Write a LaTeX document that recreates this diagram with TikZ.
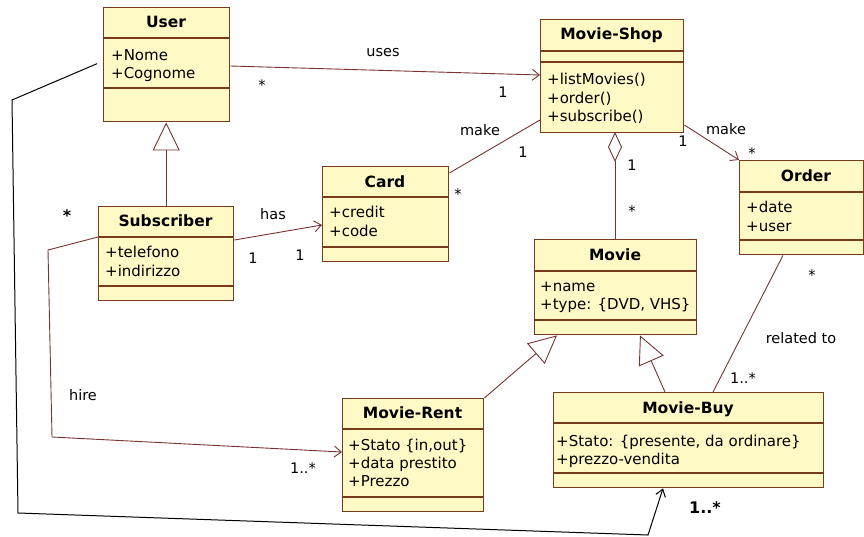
\documentclass[tikz,border=0pt]{standalone}
\usepackage{fontspec}
\setmainfont{DejaVu Sans}
\usetikzlibrary{arrows.meta,calc}
\definecolor{clsfill}{RGB}{255,249,198}
\definecolor{clsdraw}{RGB}{120,58,28}
\definecolor{conn}{RGB}{120,50,50}
\begin{document}
\begin{tikzpicture}[x=1pt,y=-1pt,
  cls/.style={draw=clsdraw, fill=clsfill, line width=1.4pt, inner sep=0pt, anchor=north west},
  sep/.style={draw=clsdraw, line width=1.2pt},
  ctitle/.style={font=\fontsize{15.5}{18}\selectfont\bfseries, anchor=base, inner sep=0pt},
  attr/.style={font=\fontsize{15}{17}\selectfont, anchor=base west, inner sep=0pt},
  lbl/.style={font=\fontsize{14.5}{17}\selectfont, anchor=base, inner sep=0pt},
  blbl/.style={font=\fontsize{16}{18}\selectfont\bfseries, anchor=base, inner sep=0pt},
  assoc/.style={draw=conn, line width=0.9pt},
  nav/.style={assoc, -{Straight Barb[length=7pt,width=11pt]}},
  gen/.style={assoc, -{Triangle[length=28pt,width=27pt,fill=white]}},
  agg/.style={assoc, {Diamond[length=30pt,width=14pt,fill=white]}-},
  handline/.style={draw=black, line width=1pt},
]
\useasboundingbox (0,0) rectangle (864,536);

% ---------- classes ----------
% User
\node[cls, minimum width=126pt, minimum height=114pt] (user) at (103,7) {};
\draw[sep] (103,38) -- (229,38);
\draw[sep] (103,88) -- (229,88);
\node[ctitle] (userT) at (166,27) {User};
\node[attr] (userA1) at (111,60) {+Nome};
\node[attr] (userA2) at (111,78) {+Cognome};

% Movie-Shop
\node[cls, minimum width=143pt, minimum height=113pt] (shop) at (540,19) {};
\draw[sep] (540,51) -- (683,51);
\draw[sep] (540,62) -- (683,62);
\node[ctitle] (shopT) at (611.5,39) {Movie-Shop};
\node[attr] (shopM1) at (547,84) {+listMovies()};
\node[attr] (shopM2) at (547,103) {+order()};
\node[attr] (shopM3) at (547,121) {+subscribe()};

% Order
\node[cls, minimum width=124pt, minimum height=94pt] (order) at (739,160) {};
\draw[sep] (739,192) -- (863,192);
\draw[sep] (739,240) -- (863,240);
\node[ctitle] (orderT) at (806,181) {Order};
\node[attr] (orderA1) at (746,212) {+date};
\node[attr] (orderA2) at (746,231) {+user};

% Card
\node[cls, minimum width=126pt, minimum height=95pt] (card) at (322,166) {};
\draw[sep] (322,197) -- (448,197);
\draw[sep] (322,247) -- (448,247);
\node[ctitle] (cardT) at (385,187) {Card};
\node[attr] (cardA1) at (329,217) {+credit};
\node[attr] (cardA2) at (329,236) {+code};

% Subscriber
\node[cls, minimum width=135pt, minimum height=94pt] (sub) at (98,206) {};
\draw[sep] (98,237) -- (233,237);
\draw[sep] (98,286) -- (233,286);
\node[ctitle] (subT) at (165.5,226) {Subscriber};
\node[attr] (subA1) at (105,257) {+telefono};
\node[attr] (subA2) at (105,276) {+indirizzo};

% Movie
\node[cls, minimum width=162pt, minimum height=95pt] (movie) at (534,239) {};
\draw[sep] (534,271) -- (696,271);
\draw[sep] (534,320) -- (696,320);
\node[ctitle] (movieT) at (615,260) {Movie};
\node[attr] (movieA1) at (540,291) {+name};
\node[attr] (movieA2) at (540,309) {+type: \{DVD, VHS\}};

% Movie-Rent
\node[cls, minimum width=141pt, minimum height=113pt] (rent) at (342,398) {};
\draw[sep] (342,429) -- (483,429);
\draw[sep] (342,497) -- (483,497);
\node[ctitle] (rentT) at (412.5,418) {Movie-Rent};
\node[attr] (rentA1) at (348,450) {+Stato \{in,out\}};
\node[attr] (rentA2) at (348,468) {+data prestito};
\node[attr] (rentA3) at (348,486) {+Prezzo};

% Movie-Buy
\node[cls, minimum width=270pt, minimum height=95pt] (buy) at (553,392) {};
\draw[sep] (553,423) -- (823,423);
\draw[sep] (553,473) -- (823,473);
\node[ctitle] (buyT) at (688,413) {Movie-Buy};
\node[attr] (buyA1) at (556,446) {+Stato: \{presente, da ordinare\}};
\node[attr] (buyA2) at (556,464) {+prezzo-vendita};

% ---------- connectors ----------
% uses
\draw[nav] ($(user.north east)+(0,59)$) -- ($(shop.north west)+(0,56)$);
\node[lbl] (usesL) at (383,56) {uses};
\node[lbl] (usesS) at (262,90) {*};
\node[lbl] (uses1) at (503,97) {1};

% generalization Subscriber -> User
\draw[gen] (sub.north) -- (sub.north |- user.south);

% make Card - Movie-Shop
\draw[assoc] ($(card.north east)+(0,7)$) -- ($(shop.north west)+(0,101)$);
\node[lbl] (make1L) at (480,135) {make};
\node[lbl] (make1a) at (523,157) {1};
\node[lbl] (make1b) at (458,199) {*};

% aggregation Movie-Shop <>- Movie
\draw[agg] (615,132) -- (615,239);
\node[lbl] (agg1) at (632,170) {1};
\node[lbl] (agg2) at (632,216) {*};

% make Movie-Shop -> Order
\draw[nav] ($(shop.north east)+(0,106)$) -- (order.north west);
\node[lbl] (make2L) at (726,134) {make};
\node[lbl] (make2a) at (683,146) {1};
\node[lbl] (make2b) at (752,158) {*};

% has Subscriber -> Card
\draw[nav] ($(sub.north east)+(0,34)$) -- ($(card.north west)+(0,59)$);
\node[lbl] (hasL) at (273,219) {has};
\node[lbl] (has1) at (253,263) {1};
\node[lbl] (has2) at (300,260) {1};

% generalizations to Movie
\draw[gen] (rent.north east) -- ($(movie.south west)+(23,0)$);
\draw[gen] ($(buy.north west)+(112,0)$) -- ($(movie.south west)+(106,0)$);

% related to Order - Movie-Buy
\draw[assoc] ($(order.south west)+(44,0)$) -- ($(buy.north west)+(160,0)$);
\node[lbl] (relS) at (812,280) {*};
\node[lbl] (relL) at (801,343) {related to};
\node[lbl] (rel1) at (743,383) {1..*};

% hire Subscriber -> Movie-Rent
\coordinate (h1) at (48,250);
\coordinate (h2) at (52,437);
\draw[nav] ($(sub.north west)+(0,31)$) -- (h1) -- (h2) -- ($(rent.north west)+(0,54)$);
\node[lbl] (hireL) at (83,400) {hire};
\node[lbl] (hire1) at (303,473) {1..*};

% hand-drawn black connector User -> Movie-Buy
\coordinate (b0) at ($(user.west)+(-6,-1)$);
\coordinate (b1) at (12,100);
\coordinate (b2) at (18,513);
\coordinate (b3) at (648,535);
\draw[handline, -{Straight Barb[length=7pt,width=10pt]}] (b0) -- (b1) -- (b2) -- (b3) -- ($(buy.south west)+(110,0)$);
\node[blbl] (bstar) at (67,221) {*};
\node[blbl] (bmult) at (705,513) {1..*};
\end{tikzpicture}
\end{document}
